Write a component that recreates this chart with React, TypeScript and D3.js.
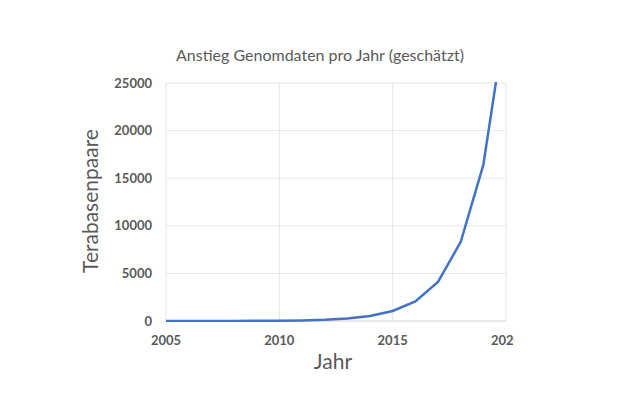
import * as d3 from "d3"
import React from "react"

const years = [2005, 2006, 2007, 2008, 2009, 2010, 2011, 2012, 2013, 2014, 2015, 2016, 2017, 2018, 2019, 2020]
const terabases = [1, 2, 4, 8, 16, 32, 64, 128, 256, 520, 1050, 2050, 4100, 8300, 16400, 32000]
const xTickValues = [2005, 2010, 2015, 2020]
const yTickValues = [0, 5000, 10000, 15000, 20000, 25000]

const title = "Anstieg Genomdaten pro Jahr (geschätzt)"
const xLabel = "Jahr"
const yLabel = "Terabasenpaare"

export default function App() {
  const width = 620
  const height = 420
  const left = 166
  const right = 506
  const top = 83
  const bottom = 321
  const font = "Lato, 'Open Sans', sans-serif"

  const xScale = d3.scaleLinear().domain([2005, 2020]).range([left, right])
  const yScale = d3.scaleLinear().domain([0, 25000]).range([bottom, top])
  const points = years.map((y, i) => [y, terabases[i]] as [number, number])
  const line = d3.line<[number, number]>().x(d => xScale(d[0])).y(d => yScale(d[1]))(points)

  return (
    <svg width={width} height={height} style={{ position: "absolute", left: 0, top: 0, background: "#fff" }}>
      <defs>
        <clipPath id="plot">
          <rect x={left} y={top - 1} width={right - left} height={bottom - top + 2} />
        </clipPath>
        {/* the source picture was cut off just right of the plot */}
        <clipPath id="page">
          <rect x={0} y={0} width={514} height={height} />
        </clipPath>
      </defs>
      <g clipPath="url(#page)">
        <text x={320} y={61} textAnchor="middle" fontFamily={font} fontSize={16} fill="#595959">{title}</text>
        {yTickValues.map(v => (
          <g key={v}>
            <line x1={left} x2={right} y1={yScale(v)} y2={yScale(v)} stroke={v === 0 ? "#d0d0d0" : "#e6e6e6"} strokeWidth={1} />
            <text x={152} y={yScale(v)} dy="0.35em" textAnchor="end" fontFamily={font} fontWeight="bold" fontSize={13} fill="#595959">{v}</text>
          </g>
        ))}
        {xTickValues.map(v => (
          <g key={v}>
            <line x1={xScale(v)} x2={xScale(v)} y1={top} y2={bottom} stroke="#e6e6e6" strokeWidth={1} />
            <text x={xScale(v)} y={345} textAnchor="middle" fontFamily={font} fontWeight="bold" fontSize={13} fill="#595959">{v}</text>
          </g>
        ))}
        <path d={line || ""} fill="none" stroke="#4472C4" strokeWidth={2.5} clipPath="url(#plot)" />
        <text x={333} y={369} textAnchor="middle" fontFamily={font} fontSize={21} fill="#595959">{xLabel}</text>
        <text transform="translate(98,201) rotate(-90)" textAnchor="middle" fontFamily={font} fontSize={21} fill="#595959">{yLabel}</text>
      </g>
    </svg>
  )
}
